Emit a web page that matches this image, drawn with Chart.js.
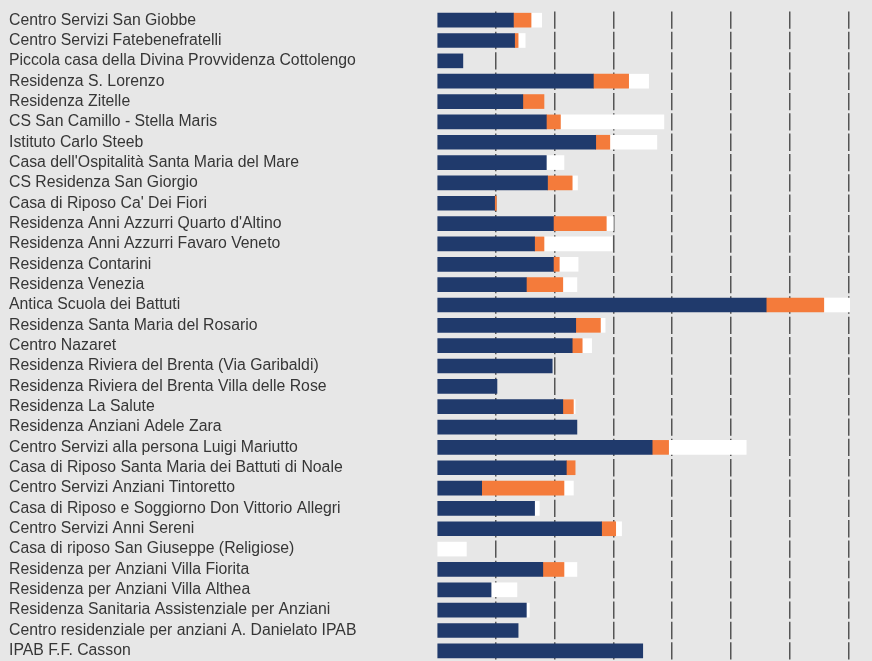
<!DOCTYPE html>
<html>
<head>
<meta charset="utf-8">
<script src="https://cdn.jsdelivr.net/npm/chart.js@4.4.1/dist/chart.umd.min.js"></script>
<style>
  html, body { margin: 0; padding: 0; background: #e7e7e7; }
  #wrap { width: 872px; height: 661px; position: relative; }
</style>
</head>
<body>
<div id="wrap"><canvas id="c" width="872" height="661"></canvas></div>
<script>
const categories = [
  "Centro Servizi San Giobbe",
  "Centro Servizi Fatebenefratelli",
  "Piccola casa della Divina Provvidenza Cottolengo",
  "Residenza S. Lorenzo",
  "Residenza Zitelle",
  "CS San Camillo - Stella Maris",
  "Istituto Carlo Steeb",
  "Casa dell'Ospitalità Santa Maria del Mare",
  "CS Residenza San Giorgio",
  "Casa di Riposo Ca' Dei Fiori",
  "Residenza Anni Azzurri Quarto d'Altino",
  "Residenza Anni Azzurri Favaro Veneto",
  "Residenza Contarini",
  "Residenza Venezia",
  "Antica Scuola dei Battuti",
  "Residenza Santa Maria del Rosario",
  "Centro Nazaret",
  "Residenza Riviera del Brenta (Via Garibaldi)",
  "Residenza Riviera del Brenta Villa delle Rose",
  "Residenza La Salute",
  "Residenza Anziani Adele Zara",
  "Centro Servizi alla persona Luigi Mariutto",
  "Casa di Riposo Santa Maria dei Battuti di Noale",
  "Centro Servizi Anziani Tintoretto",
  "Casa di Riposo e Soggiorno Don Vittorio Allegri",
  "Centro Servizi Anni Sereni",
  "Casa di riposo San Giuseppe (Religiose)",
  "Residenza per Anziani Villa Fiorita",
  "Residenza per Anziani Villa Althea",
  "Residenza Sanitaria Assistenziale per Anziani",
  "Centro residenziale per anziani A. Danielato IPAB",
  "IPAB F.F. Casson"
];
const seriesNavy   = [65, 66, 22, 133, 73, 93, 135, 93, 94, 49, 99, 83, 99, 76, 280, 118, 115, 98, 51, 107, 119, 183, 110, 38, 83, 140, 0, 90, 46, 76, 69, 175];
const seriesOrange = [15, 3, 0, 30, 18, 12, 12, 0, 21, 1.5, 45, 8, 5, 31, 49, 21, 8.5, 0, 0, 9, 0, 14, 7.5, 70, 0, 12, 0, 18, 0, 0, 0, 0];
const seriesWhite  = [9, 6, 0, 17, 0, 88, 40, 15, 4.5, 0, 6, 58, 16, 12, 22, 4, 8, 0, 0, 1.5, 0, 66, 0, 8, 4, 5, 25, 11, 22, 2.5, 0, 0];
const xTicks = [0, 50, 100, 150, 200, 250, 300, 350];

const rowH = (661 - 10) / categories.length;
const noZero = (arr) => arr.map(v => (v === 0 ? null : v));

new Chart(document.getElementById('c'), {
  type: 'bar',
  data: {
    labels: categories,
    datasets: [
      { data: noZero(seriesNavy), backgroundColor: '#203a6c', barThickness: 14, borderWidth: 0 },
      { data: noZero(seriesOrange), backgroundColor: '#f47b3b', barThickness: 14, borderWidth: 0 },
      { data: noZero(seriesWhite), backgroundColor: '#ffffff', barThickness: 14, borderWidth: 0 }
    ]
  },
  options: {
    indexAxis: 'y',
    responsive: false,
    animation: false,
    layout: { padding: { left: 9, top: 10, right: 0, bottom: 0 } },
    plugins: { legend: { display: false }, tooltip: { enabled: false } },
    scales: {
      x: {
        stacked: true,
        min: 0,
        max: 370,
        afterBuildTicks: (s) => { s.ticks = xTicks.map(v => ({ value: v })); },
        afterFit: (s) => { s.height = 0; s.paddingLeft = 0; s.paddingRight = 0; s.paddingTop = 0; s.paddingBottom = 0; },
        ticks: { display: false },
        grid: {
          drawTicks: false,
          lineWidth: 1.5,
          color: (ctx) => (ctx.tick && ctx.tick.value === 0) ? 'rgba(0,0,0,0)' : '#555555'
        },
        border: { display: false, dash: [rowH - 3, 3], dashOffset: rowH - 1.5 }
      },
      y: {
        stacked: true,
        grid: { display: false, drawTicks: false },
        border: { display: false },
        afterFit: (s) => { s.width = 437 - 9; s.paddingTop = 0; s.paddingBottom = 0; },
        ticks: {
          crossAlign: 'far',
          padding: 0,
          color: '#363636',
          font: { family: 'Liberation Sans', size: 15.8 },
          autoSkip: false
        }
      }
    }
  }
});
</script>
</body>
</html>
